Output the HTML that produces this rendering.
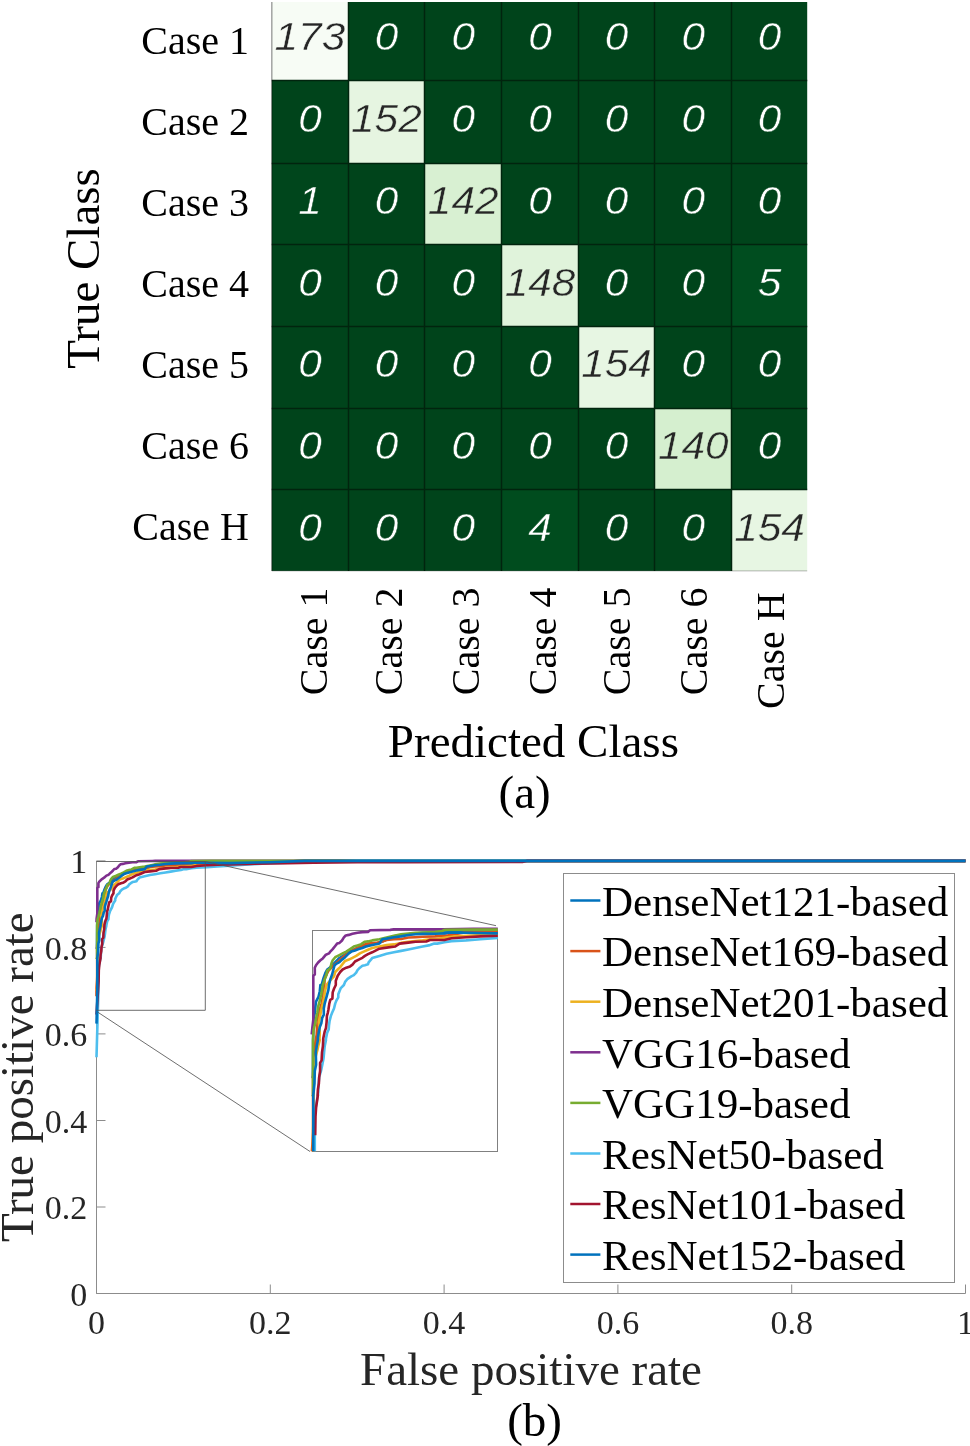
<!DOCTYPE html>
<html><head><meta charset="utf-8"><style>
html,body{margin:0;padding:0;background:#fff;}
svg{display:block;will-change:transform;}
.num{font-family:"Liberation Sans",sans-serif;font-style:italic;font-size:38.5px;}
.lab{font-family:"Liberation Serif",serif;font-size:40px;fill:#000;}
.big{font-family:"Liberation Serif",serif;font-size:47px;fill:#000;}
.leg{font-family:"Liberation Serif",serif;font-size:43px;fill:#000;}
.tick{font-family:"Liberation Serif",serif;font-size:34px;fill:#262626;}
.axl{font-family:"Liberation Serif",serif;font-size:47px;fill:#262626;}
</style></head><body>
<svg width="970" height="1446" viewBox="0 0 970 1446">
<rect width="970" height="1446" fill="#fff"/>
<rect x="271.8" y="2.0" width="76.2" height="78.3" fill="rgb(247, 252, 245)"/>
<rect x="348.0" y="2.0" width="76.9" height="78.3" fill="rgb(0, 68, 27)"/>
<rect x="424.9" y="2.0" width="76.7" height="78.3" fill="rgb(0, 68, 27)"/>
<rect x="501.6" y="2.0" width="76.8" height="78.3" fill="rgb(0, 68, 27)"/>
<rect x="578.4" y="2.0" width="76.5" height="78.3" fill="rgb(0, 68, 27)"/>
<rect x="654.9" y="2.0" width="76.9" height="78.3" fill="rgb(0, 68, 27)"/>
<rect x="731.8" y="2.0" width="75.4" height="78.3" fill="rgb(0, 68, 27)"/>
<rect x="271.8" y="80.3" width="76.2" height="82.7" fill="rgb(0, 68, 27)"/>
<rect x="348.0" y="80.3" width="76.9" height="82.7" fill="rgb(230, 245, 225)"/>
<rect x="424.9" y="80.3" width="76.7" height="82.7" fill="rgb(0, 68, 27)"/>
<rect x="501.6" y="80.3" width="76.8" height="82.7" fill="rgb(0, 68, 27)"/>
<rect x="578.4" y="80.3" width="76.5" height="82.7" fill="rgb(0, 68, 27)"/>
<rect x="654.9" y="80.3" width="76.9" height="82.7" fill="rgb(0, 68, 27)"/>
<rect x="731.8" y="80.3" width="75.4" height="82.7" fill="rgb(0, 68, 27)"/>
<rect x="271.8" y="163.0" width="76.2" height="81.8" fill="rgb(0, 70, 28)"/>
<rect x="348.0" y="163.0" width="76.9" height="81.8" fill="rgb(0, 68, 27)"/>
<rect x="424.9" y="163.0" width="76.7" height="81.8" fill="rgb(216, 240, 210)"/>
<rect x="501.6" y="163.0" width="76.8" height="81.8" fill="rgb(0, 68, 27)"/>
<rect x="578.4" y="163.0" width="76.5" height="81.8" fill="rgb(0, 68, 27)"/>
<rect x="654.9" y="163.0" width="76.9" height="81.8" fill="rgb(0, 68, 27)"/>
<rect x="731.8" y="163.0" width="75.4" height="81.8" fill="rgb(0, 68, 27)"/>
<rect x="271.8" y="244.8" width="76.2" height="81.2" fill="rgb(0, 68, 27)"/>
<rect x="348.0" y="244.8" width="76.9" height="81.2" fill="rgb(0, 68, 27)"/>
<rect x="424.9" y="244.8" width="76.7" height="81.2" fill="rgb(0, 68, 27)"/>
<rect x="501.6" y="244.8" width="76.8" height="81.2" fill="rgb(224, 243, 219)"/>
<rect x="578.4" y="244.8" width="76.5" height="81.2" fill="rgb(0, 68, 27)"/>
<rect x="654.9" y="244.8" width="76.9" height="81.2" fill="rgb(0, 68, 27)"/>
<rect x="731.8" y="244.8" width="75.4" height="81.2" fill="rgb(0, 77, 31)"/>
<rect x="271.8" y="326.0" width="76.2" height="82.2" fill="rgb(0, 68, 27)"/>
<rect x="348.0" y="326.0" width="76.9" height="82.2" fill="rgb(0, 68, 27)"/>
<rect x="424.9" y="326.0" width="76.7" height="82.2" fill="rgb(0, 68, 27)"/>
<rect x="501.6" y="326.0" width="76.8" height="82.2" fill="rgb(0, 68, 27)"/>
<rect x="578.4" y="326.0" width="76.5" height="82.2" fill="rgb(231, 246, 227)"/>
<rect x="654.9" y="326.0" width="76.9" height="82.2" fill="rgb(0, 68, 27)"/>
<rect x="731.8" y="326.0" width="75.4" height="82.2" fill="rgb(0, 68, 27)"/>
<rect x="271.8" y="408.2" width="76.2" height="81.6" fill="rgb(0, 68, 27)"/>
<rect x="348.0" y="408.2" width="76.9" height="81.6" fill="rgb(0, 68, 27)"/>
<rect x="424.9" y="408.2" width="76.7" height="81.6" fill="rgb(0, 68, 27)"/>
<rect x="501.6" y="408.2" width="76.8" height="81.6" fill="rgb(0, 68, 27)"/>
<rect x="578.4" y="408.2" width="76.5" height="81.6" fill="rgb(0, 68, 27)"/>
<rect x="654.9" y="408.2" width="76.9" height="81.6" fill="rgb(213, 239, 207)"/>
<rect x="731.8" y="408.2" width="75.4" height="81.6" fill="rgb(0, 68, 27)"/>
<rect x="271.8" y="489.8" width="76.2" height="81.1" fill="rgb(0, 68, 27)"/>
<rect x="348.0" y="489.8" width="76.9" height="81.1" fill="rgb(0, 68, 27)"/>
<rect x="424.9" y="489.8" width="76.7" height="81.1" fill="rgb(0, 68, 27)"/>
<rect x="501.6" y="489.8" width="76.8" height="81.1" fill="rgb(0, 76, 30)"/>
<rect x="578.4" y="489.8" width="76.5" height="81.1" fill="rgb(0, 68, 27)"/>
<rect x="654.9" y="489.8" width="76.9" height="81.1" fill="rgb(0, 68, 27)"/>
<rect x="731.8" y="489.8" width="75.4" height="81.1" fill="rgb(231, 246, 227)"/>
<line x1="348.5" y1="2.0" x2="348.5" y2="570.9" stroke="#01240e" stroke-width="1.5"/>
<line x1="424.5" y1="2.0" x2="424.5" y2="570.9" stroke="#01240e" stroke-width="1.5"/>
<line x1="501.5" y1="2.0" x2="501.5" y2="570.9" stroke="#01240e" stroke-width="1.5"/>
<line x1="578.5" y1="2.0" x2="578.5" y2="570.9" stroke="#01240e" stroke-width="1.5"/>
<line x1="654.5" y1="2.0" x2="654.5" y2="570.9" stroke="#01240e" stroke-width="1.5"/>
<line x1="731.5" y1="2.0" x2="731.5" y2="570.9" stroke="#01240e" stroke-width="1.5"/>
<line x1="271.8" y1="80.5" x2="807.2" y2="80.5" stroke="#01240e" stroke-width="1.5"/>
<line x1="271.8" y1="163.5" x2="807.2" y2="163.5" stroke="#01240e" stroke-width="1.5"/>
<line x1="271.8" y1="244.5" x2="807.2" y2="244.5" stroke="#01240e" stroke-width="1.5"/>
<line x1="271.8" y1="326.5" x2="807.2" y2="326.5" stroke="#01240e" stroke-width="1.5"/>
<line x1="271.8" y1="408.5" x2="807.2" y2="408.5" stroke="#01240e" stroke-width="1.5"/>
<line x1="271.8" y1="489.5" x2="807.2" y2="489.5" stroke="#01240e" stroke-width="1.5"/>
<line x1="271.8" y1="2.0" x2="271.8" y2="570.9" stroke="#000" stroke-opacity="0.38" stroke-width="1.4"/>
<line x1="271.8" y1="570.9" x2="807.2" y2="570.9" stroke="#000" stroke-opacity="0.22" stroke-width="1.3"/>
<text x="0" y="0" transform="translate(309.9,50.0) scale(1.1,1)" text-anchor="middle" class="num" fill="#262626" stroke="rgb(247, 252, 245)" stroke-width="0.45">173</text>
<text x="0" y="0" transform="translate(386.4,50.0) scale(1.1,1)" text-anchor="middle" class="num" fill="#ffffff" stroke="rgb(0, 68, 27)" stroke-width="0.45">0</text>
<text x="0" y="0" transform="translate(463.2,50.0) scale(1.1,1)" text-anchor="middle" class="num" fill="#ffffff" stroke="rgb(0, 68, 27)" stroke-width="0.45">0</text>
<text x="0" y="0" transform="translate(540.0,50.0) scale(1.1,1)" text-anchor="middle" class="num" fill="#ffffff" stroke="rgb(0, 68, 27)" stroke-width="0.45">0</text>
<text x="0" y="0" transform="translate(616.6,50.0) scale(1.1,1)" text-anchor="middle" class="num" fill="#ffffff" stroke="rgb(0, 68, 27)" stroke-width="0.45">0</text>
<text x="0" y="0" transform="translate(693.3,50.0) scale(1.1,1)" text-anchor="middle" class="num" fill="#ffffff" stroke="rgb(0, 68, 27)" stroke-width="0.45">0</text>
<text x="0" y="0" transform="translate(769.5,50.0) scale(1.1,1)" text-anchor="middle" class="num" fill="#ffffff" stroke="rgb(0, 68, 27)" stroke-width="0.45">0</text>
<text x="0" y="0" transform="translate(309.9,131.8) scale(1.1,1)" text-anchor="middle" class="num" fill="#ffffff" stroke="rgb(0, 68, 27)" stroke-width="0.45">0</text>
<text x="0" y="0" transform="translate(386.4,131.8) scale(1.1,1)" text-anchor="middle" class="num" fill="#262626" stroke="rgb(230, 245, 225)" stroke-width="0.45">152</text>
<text x="0" y="0" transform="translate(463.2,131.8) scale(1.1,1)" text-anchor="middle" class="num" fill="#ffffff" stroke="rgb(0, 68, 27)" stroke-width="0.45">0</text>
<text x="0" y="0" transform="translate(540.0,131.8) scale(1.1,1)" text-anchor="middle" class="num" fill="#ffffff" stroke="rgb(0, 68, 27)" stroke-width="0.45">0</text>
<text x="0" y="0" transform="translate(616.6,131.8) scale(1.1,1)" text-anchor="middle" class="num" fill="#ffffff" stroke="rgb(0, 68, 27)" stroke-width="0.45">0</text>
<text x="0" y="0" transform="translate(693.3,131.8) scale(1.1,1)" text-anchor="middle" class="num" fill="#ffffff" stroke="rgb(0, 68, 27)" stroke-width="0.45">0</text>
<text x="0" y="0" transform="translate(769.5,131.8) scale(1.1,1)" text-anchor="middle" class="num" fill="#ffffff" stroke="rgb(0, 68, 27)" stroke-width="0.45">0</text>
<text x="0" y="0" transform="translate(309.9,213.7) scale(1.1,1)" text-anchor="middle" class="num" fill="#ffffff" stroke="rgb(0, 70, 28)" stroke-width="0.45">1</text>
<text x="0" y="0" transform="translate(386.4,213.7) scale(1.1,1)" text-anchor="middle" class="num" fill="#ffffff" stroke="rgb(0, 68, 27)" stroke-width="0.45">0</text>
<text x="0" y="0" transform="translate(463.2,213.7) scale(1.1,1)" text-anchor="middle" class="num" fill="#262626" stroke="rgb(216, 240, 210)" stroke-width="0.45">142</text>
<text x="0" y="0" transform="translate(540.0,213.7) scale(1.1,1)" text-anchor="middle" class="num" fill="#ffffff" stroke="rgb(0, 68, 27)" stroke-width="0.45">0</text>
<text x="0" y="0" transform="translate(616.6,213.7) scale(1.1,1)" text-anchor="middle" class="num" fill="#ffffff" stroke="rgb(0, 68, 27)" stroke-width="0.45">0</text>
<text x="0" y="0" transform="translate(693.3,213.7) scale(1.1,1)" text-anchor="middle" class="num" fill="#ffffff" stroke="rgb(0, 68, 27)" stroke-width="0.45">0</text>
<text x="0" y="0" transform="translate(769.5,213.7) scale(1.1,1)" text-anchor="middle" class="num" fill="#ffffff" stroke="rgb(0, 68, 27)" stroke-width="0.45">0</text>
<text x="0" y="0" transform="translate(309.9,295.5) scale(1.1,1)" text-anchor="middle" class="num" fill="#ffffff" stroke="rgb(0, 68, 27)" stroke-width="0.45">0</text>
<text x="0" y="0" transform="translate(386.4,295.5) scale(1.1,1)" text-anchor="middle" class="num" fill="#ffffff" stroke="rgb(0, 68, 27)" stroke-width="0.45">0</text>
<text x="0" y="0" transform="translate(463.2,295.5) scale(1.1,1)" text-anchor="middle" class="num" fill="#ffffff" stroke="rgb(0, 68, 27)" stroke-width="0.45">0</text>
<text x="0" y="0" transform="translate(540.0,295.5) scale(1.1,1)" text-anchor="middle" class="num" fill="#262626" stroke="rgb(224, 243, 219)" stroke-width="0.45">148</text>
<text x="0" y="0" transform="translate(616.6,295.5) scale(1.1,1)" text-anchor="middle" class="num" fill="#ffffff" stroke="rgb(0, 68, 27)" stroke-width="0.45">0</text>
<text x="0" y="0" transform="translate(693.3,295.5) scale(1.1,1)" text-anchor="middle" class="num" fill="#ffffff" stroke="rgb(0, 68, 27)" stroke-width="0.45">0</text>
<text x="0" y="0" transform="translate(769.5,295.5) scale(1.1,1)" text-anchor="middle" class="num" fill="#ffffff" stroke="rgb(0, 77, 31)" stroke-width="0.45">5</text>
<text x="0" y="0" transform="translate(309.9,377.4) scale(1.1,1)" text-anchor="middle" class="num" fill="#ffffff" stroke="rgb(0, 68, 27)" stroke-width="0.45">0</text>
<text x="0" y="0" transform="translate(386.4,377.4) scale(1.1,1)" text-anchor="middle" class="num" fill="#ffffff" stroke="rgb(0, 68, 27)" stroke-width="0.45">0</text>
<text x="0" y="0" transform="translate(463.2,377.4) scale(1.1,1)" text-anchor="middle" class="num" fill="#ffffff" stroke="rgb(0, 68, 27)" stroke-width="0.45">0</text>
<text x="0" y="0" transform="translate(540.0,377.4) scale(1.1,1)" text-anchor="middle" class="num" fill="#ffffff" stroke="rgb(0, 68, 27)" stroke-width="0.45">0</text>
<text x="0" y="0" transform="translate(616.6,377.4) scale(1.1,1)" text-anchor="middle" class="num" fill="#262626" stroke="rgb(231, 246, 227)" stroke-width="0.45">154</text>
<text x="0" y="0" transform="translate(693.3,377.4) scale(1.1,1)" text-anchor="middle" class="num" fill="#ffffff" stroke="rgb(0, 68, 27)" stroke-width="0.45">0</text>
<text x="0" y="0" transform="translate(769.5,377.4) scale(1.1,1)" text-anchor="middle" class="num" fill="#ffffff" stroke="rgb(0, 68, 27)" stroke-width="0.45">0</text>
<text x="0" y="0" transform="translate(309.9,459.2) scale(1.1,1)" text-anchor="middle" class="num" fill="#ffffff" stroke="rgb(0, 68, 27)" stroke-width="0.45">0</text>
<text x="0" y="0" transform="translate(386.4,459.2) scale(1.1,1)" text-anchor="middle" class="num" fill="#ffffff" stroke="rgb(0, 68, 27)" stroke-width="0.45">0</text>
<text x="0" y="0" transform="translate(463.2,459.2) scale(1.1,1)" text-anchor="middle" class="num" fill="#ffffff" stroke="rgb(0, 68, 27)" stroke-width="0.45">0</text>
<text x="0" y="0" transform="translate(540.0,459.2) scale(1.1,1)" text-anchor="middle" class="num" fill="#ffffff" stroke="rgb(0, 68, 27)" stroke-width="0.45">0</text>
<text x="0" y="0" transform="translate(616.6,459.2) scale(1.1,1)" text-anchor="middle" class="num" fill="#ffffff" stroke="rgb(0, 68, 27)" stroke-width="0.45">0</text>
<text x="0" y="0" transform="translate(693.3,459.2) scale(1.1,1)" text-anchor="middle" class="num" fill="#262626" stroke="rgb(213, 239, 207)" stroke-width="0.45">140</text>
<text x="0" y="0" transform="translate(769.5,459.2) scale(1.1,1)" text-anchor="middle" class="num" fill="#ffffff" stroke="rgb(0, 68, 27)" stroke-width="0.45">0</text>
<text x="0" y="0" transform="translate(309.9,541.1) scale(1.1,1)" text-anchor="middle" class="num" fill="#ffffff" stroke="rgb(0, 68, 27)" stroke-width="0.45">0</text>
<text x="0" y="0" transform="translate(386.4,541.1) scale(1.1,1)" text-anchor="middle" class="num" fill="#ffffff" stroke="rgb(0, 68, 27)" stroke-width="0.45">0</text>
<text x="0" y="0" transform="translate(463.2,541.1) scale(1.1,1)" text-anchor="middle" class="num" fill="#ffffff" stroke="rgb(0, 68, 27)" stroke-width="0.45">0</text>
<text x="0" y="0" transform="translate(540.0,541.1) scale(1.1,1)" text-anchor="middle" class="num" fill="#ffffff" stroke="rgb(0, 76, 30)" stroke-width="0.45">4</text>
<text x="0" y="0" transform="translate(616.6,541.1) scale(1.1,1)" text-anchor="middle" class="num" fill="#ffffff" stroke="rgb(0, 68, 27)" stroke-width="0.45">0</text>
<text x="0" y="0" transform="translate(693.3,541.1) scale(1.1,1)" text-anchor="middle" class="num" fill="#ffffff" stroke="rgb(0, 68, 27)" stroke-width="0.45">0</text>
<text x="0" y="0" transform="translate(769.5,541.1) scale(1.1,1)" text-anchor="middle" class="num" fill="#262626" stroke="rgb(231, 246, 227)" stroke-width="0.45">154</text>
<text x="249" y="53.8" text-anchor="end" class="lab">Case 1</text>
<text x="249" y="134.9" text-anchor="end" class="lab">Case 2</text>
<text x="249" y="216.0" text-anchor="end" class="lab">Case 3</text>
<text x="249" y="297.0" text-anchor="end" class="lab">Case 4</text>
<text x="249" y="378.1" text-anchor="end" class="lab">Case 5</text>
<text x="249" y="459.2" text-anchor="end" class="lab">Case 6</text>
<text x="249" y="540.3" text-anchor="end" class="lab">Case H</text>
<text transform="translate(326.8,587.5) rotate(-90)" text-anchor="end" class="lab">Case 1</text>
<text transform="translate(401.5,587.5) rotate(-90)" text-anchor="end" class="lab">Case 2</text>
<text transform="translate(478.5,587.5) rotate(-90)" text-anchor="end" class="lab">Case 3</text>
<text transform="translate(555.6,587.5) rotate(-90)" text-anchor="end" class="lab">Case 4</text>
<text transform="translate(629.8,587.5) rotate(-90)" text-anchor="end" class="lab">Case 5</text>
<text transform="translate(706.5,587.5) rotate(-90)" text-anchor="end" class="lab">Case 6</text>
<text transform="translate(784.0,592.4) rotate(-90)" text-anchor="end" class="lab">Case H</text>
<text transform="translate(98.5,268.5) rotate(-90)" text-anchor="middle" class="big">True Class</text>
<text x="533.4" y="756.5" text-anchor="middle" class="big">Predicted Class</text>
<text x="524.6" y="807.6" text-anchor="middle" class="big">(a)</text>
<g stroke="#8c8c8c" stroke-width="1" fill="none">
<line x1="96.5" y1="1293.5" x2="965.5" y2="1293.5"/>
<line x1="96.5" y1="1293.5" x2="96.5" y2="860.9"/>
<line x1="96.5" y1="1293.5" x2="96.5" y2="1284.5"/>
<line x1="96.5" y1="1293.5" x2="105.5" y2="1293.5"/>
<line x1="270.3" y1="1293.5" x2="270.3" y2="1284.5"/>
<line x1="96.5" y1="1207.0" x2="105.5" y2="1207.0"/>
<line x1="444.1" y1="1293.5" x2="444.1" y2="1284.5"/>
<line x1="96.5" y1="1120.5" x2="105.5" y2="1120.5"/>
<line x1="617.9" y1="1293.5" x2="617.9" y2="1284.5"/>
<line x1="96.5" y1="1033.9" x2="105.5" y2="1033.9"/>
<line x1="791.7" y1="1293.5" x2="791.7" y2="1284.5"/>
<line x1="96.5" y1="947.4" x2="105.5" y2="947.4"/>
<line x1="965.5" y1="1293.5" x2="965.5" y2="1284.5"/>
<line x1="96.5" y1="860.9" x2="105.5" y2="860.9"/>
</g>
<g fill="none" stroke-width="2.6" stroke-linejoin="round" stroke-linecap="butt">
<path d="M96.5,947.4 L96.5,947.8 L97.0,947.3 L97.1,936.5 L97.2,925.6 L97.5,913.6 L98.4,909.7 L98.8,906.0 L99.3,903.1 L101.0,900.2 L101.9,897.0 L102.4,893.3 L103.2,893.3 L104.6,889.3 L105.9,886.4 L107.2,884.3 L108.6,883.5 L112.1,880.6 L115.7,877.7 L120.1,875.6 L124.5,873.4 L129.0,871.6 L133.4,870.5 L136.5,869.7 L144.7,868.7 L155.1,864.8 L165.5,863.6 L175.8,862.7 L184.6,862.5 L206.9,862.3 L229.7,862.7 L270.3,862.2 L305.1,860.9 L965.5,860.9" stroke="#0072bd"/>
<path d="M96.5,996.3 L96.5,990.8 L96.6,986.9 L97.1,979.6 L97.2,976.0 L97.1,947.3 L97.7,936.5 L98.4,929.2 L99.7,922.3 L99.9,918.7 L100.4,915.1 L101.0,911.5 L101.9,907.8 L103.2,904.2 L104.1,900.6 L105.0,895.1 L105.5,889.7 L106.8,887.2 L108.1,885.0 L110.3,883.2 L112.6,881.4 L114.8,879.9 L117.4,877.7 L120.1,875.9 L122.8,874.5 L125.4,873.0 L129.0,871.6 L133.4,869.7 L136.5,869.0 L142.2,868.7 L146.8,867.8 L149.9,867.0 L155.1,866.5 L160.3,866.3 L165.5,865.5 L170.6,865.3 L175.8,865.1 L184.6,864.8 L194.0,864.2 L205.9,862.5 L229.7,862.3 L270.3,862.2 L305.1,860.9 L965.5,860.9" stroke="#d95319"/>
<path d="M96.5,988.9 L97.2,990.8 L97.2,979.6 L97.5,943.7 L98.0,938.3 L100.4,931.0 L100.8,929.2 L101.9,925.6 L101.7,926.0 L101.9,921.6 L101.3,915.1 L102.1,911.5 L103.0,907.8 L104.1,904.2 L105.0,900.6 L105.7,897.0 L106.8,893.3 L108.1,891.9 L112.1,888.2 L113.0,885.7 L114.8,884.3 L116.6,882.8 L118.3,881.0 L120.1,879.2 L122.8,878.5 L125.4,877.4 L128.1,876.3 L130.8,874.8 L133.4,873.7 L136.5,872.7 L139.6,871.6 L144.7,870.8 L149.9,869.9 L155.1,869.5 L160.3,868.7 L165.5,868.0 L170.6,867.6 L175.8,867.2 L181.0,866.5 L184.6,866.5 L191.4,865.7 L199.1,864.8 L204.3,864.6 L214.7,864.2 L229.7,864.2 L270.3,862.6 L305.1,860.9 L965.5,860.9" stroke="#edb120"/>
<path d="M96.5,922.3 L96.5,922.3 L96.6,918.7 L97.3,913.6 L97.3,893.3 L97.3,887.9 L98.4,887.2 L98.4,883.2 L99.3,881.7 L100.6,880.3 L102.4,878.8 L104.1,877.7 L106.4,875.6 L108.6,874.8 L109.5,873.7 L111.2,872.3 L113.0,870.5 L114.3,869.0 L116.1,868.7 L117.9,867.2 L119.2,865.4 L120.6,864.3 L122.8,863.9 L125.4,863.2 L129.0,862.7 L132.5,862.3 L136.5,862.2 L138.0,861.3 L152.5,861.0 L155.1,860.9 L184.6,860.9 L190.9,860.9 L212.1,860.9 L229.7,860.9 L270.3,860.9 L965.5,860.9" stroke="#7e2f8e"/>
<path d="M96.5,958.7 L96.5,958.6 L97.1,958.2 L97.1,925.6 L97.3,922.3 L97.5,919.4 L98.4,916.9 L99.3,913.3 L100.1,909.7 L100.8,906.0 L101.9,902.4 L103.0,898.8 L104.1,893.3 L105.5,890.1 L106.8,887.2 L107.2,885.0 L109.5,883.5 L110.3,880.6 L111.2,878.8 L113.0,877.0 L115.7,875.9 L118.3,874.8 L121.0,873.7 L123.7,872.3 L126.3,870.8 L129.0,870.1 L131.6,869.4 L134.3,867.9 L136.5,867.8 L139.6,867.2 L144.7,866.5 L149.9,865.5 L155.1,864.4 L160.3,863.6 L165.5,863.2 L170.6,862.7 L175.8,862.5 L184.6,862.2 L189.8,861.7 L191.4,861.0 L212.1,860.9 L229.7,860.9 L270.3,860.9 L965.5,860.9" stroke="#77ac30"/>
<path d="M96.5,1057.3 L98.4,990.8 L98.4,968.7 L100.8,956.4 L101.1,951.0 L101.5,947.3 L102.8,943.7 L103.7,940.1 L104.6,936.5 L105.1,932.8 L105.5,929.2 L106.4,925.6 L106.1,926.0 L106.6,924.2 L107.2,921.3 L108.4,919.4 L108.6,916.9 L109.0,914.4 L109.9,911.5 L110.8,909.7 L112.1,907.1 L113.0,904.2 L113.9,902.4 L115.2,900.6 L115.2,898.8 L116.1,897.0 L117.0,895.1 L119.2,893.3 L120.1,891.5 L121.9,889.7 L124.5,888.2 L126.3,887.5 L128.1,886.1 L129.0,884.6 L130.8,883.2 L132.5,882.1 L134.3,881.7 L136.5,881.2 L137.0,880.1 L139.6,877.5 L144.7,876.3 L149.9,875.0 L155.1,874.2 L160.3,873.3 L165.5,872.5 L170.6,871.6 L175.8,870.8 L181.0,869.9 L184.1,869.1 L186.2,869.1 L191.4,868.2 L196.6,867.6 L206.9,867.2 L217.3,866.5 L229.7,865.7 L248.6,864.4 L270.3,863.1 L305.1,862.2 L357.2,860.9 L965.5,860.9" stroke="#4dbeee"/>
<path d="M96.5,1014.5 L98.6,981.4 L98.8,970.5 L99.3,965.1 L99.9,961.5 L100.6,957.8 L100.4,958.2 L100.6,954.6 L101.3,951.0 L101.5,947.3 L102.2,943.7 L102.2,939.0 L103.3,937.6 L103.5,932.8 L104.2,929.2 L104.4,925.6 L104.4,924.9 L104.8,923.1 L105.5,920.5 L106.4,918.7 L106.8,915.1 L107.0,911.5 L107.7,909.7 L108.1,907.8 L108.8,904.2 L109.5,902.0 L111.0,901.3 L111.2,897.7 L112.1,895.5 L113.5,893.3 L113.5,890.8 L114.8,887.9 L116.6,885.7 L118.3,884.3 L121.0,883.2 L123.7,882.4 L125.4,881.4 L127.2,879.5 L129.9,878.5 L132.5,877.4 L134.3,876.3 L136.5,875.2 L139.6,874.2 L144.7,872.0 L149.9,871.4 L156.1,870.8 L159.2,869.1 L165.5,868.4 L170.6,868.0 L178.4,867.8 L181.0,867.0 L184.6,867.0 L191.4,867.0 L196.6,865.9 L206.9,865.3 L217.3,864.8 L229.7,864.4 L248.6,863.9 L287.7,863.1 L313.8,862.6 L357.2,862.2 L400.6,862.3 L522.3,862.0 L526.7,860.9 L965.5,860.9" stroke="#a2142f"/>
<path d="M96.5,1023.6 L97.3,990.8 L97.3,957.8 L98.2,951.0 L98.4,943.7 L99.3,940.1 L99.1,932.8 L99.7,929.2 L100.6,925.6 L100.6,924.2 L101.3,920.9 L101.9,918.0 L103.0,915.8 L103.7,912.6 L104.8,910.7 L104.8,907.1 L105.5,904.2 L106.4,901.7 L107.2,898.8 L108.1,896.2 L108.6,893.3 L109.5,890.1 L110.8,887.2 L111.7,884.3 L112.6,881.7 L114.3,880.6 L116.1,879.9 L117.9,878.5 L120.1,877.0 L122.8,874.8 L124.5,873.7 L127.2,873.0 L129.9,872.3 L132.5,871.6 L135.2,870.8 L136.5,870.5 L139.6,869.9 L144.7,869.1 L146.8,866.5 L149.9,866.1 L155.1,865.3 L160.3,864.8 L165.5,864.0 L170.6,863.6 L175.8,863.4 L184.6,863.2 L191.4,863.2 L194.0,862.7 L206.9,862.7 L229.7,863.1 L270.3,862.2 L305.1,860.9 L965.5,860.9" stroke="#0072bd"/>
</g>
<g stroke="#555" stroke-width="1" fill="none" stroke-opacity="0.85">
<path d="M96.5,861.5 L205.3,861.5 L205.3,1010.3 L96.5,1010.3"/>
<line x1="205.3" y1="861.5" x2="496" y2="925.7"/>
<line x1="97.5" y1="1012" x2="310" y2="1151.5"/>
</g>
<rect x="312.5" y="930.5" width="185" height="221" fill="#fff" stroke="#808080" stroke-width="1"/>
<g fill="none" stroke-width="2.6" stroke-linejoin="round">
<path d="M311.6,1077.8 L312.9,1077.1 L313.0,1058.6 L313.1,1040.0 L313.6,1019.6 L314.8,1012.8 L315.4,1006.6 L316.0,1001.7 L318.5,996.8 L319.8,991.2 L320.4,985.0 L321.6,985.0 L323.5,978.2 L325.3,973.2 L327.2,969.5 L329.0,968.3 L334.0,963.3 L338.9,958.4 L345.1,954.7 L351.3,951.0 L357.5,947.9 L363.7,946.0 L368.0,944.8 L379.4,942.9 L393.9,936.4 L408.3,934.3 L422.7,932.8 L435.0,932.5 L466.1,932.1 L497.8,932.8" stroke="#0072bd"/>
<path d="M311.9,1151.3 L312.4,1144.5 L313.0,1132.1 L313.1,1125.9 L313.0,1077.1 L313.9,1058.6 L314.8,1046.2 L316.7,1034.5 L317.0,1028.3 L317.6,1022.1 L318.5,1015.9 L319.8,1009.7 L321.6,1003.6 L322.8,997.4 L324.1,988.1 L324.7,978.8 L326.6,974.5 L328.4,970.8 L331.5,967.7 L334.6,964.6 L337.7,962.1 L341.4,958.4 L345.1,955.3 L348.8,952.8 L352.5,950.4 L357.5,947.9 L363.7,944.8 L368.0,943.6 L375.8,942.9 L382.3,941.5 L386.6,940.0 L393.9,939.3 L401.1,939.0 L408.3,937.5 L415.5,937.2 L422.7,936.8 L435.0,936.4 L448.0,935.4 L464.6,932.5 L497.8,932.1" stroke="#d95319"/>
<path d="M313.1,1151.3 L313.1,1132.1 L313.6,1070.9 L314.2,1061.6 L317.6,1049.3 L318.2,1046.2 L319.8,1040.0 L319.4,1040.7 L319.8,1033.2 L318.8,1022.1 L320.1,1015.9 L321.3,1009.7 L322.8,1003.6 L324.1,997.4 L325.0,991.2 L326.6,985.0 L328.4,982.5 L334.0,976.3 L335.2,972.0 L337.7,969.5 L340.2,967.1 L342.6,964.0 L345.1,960.9 L348.8,959.6 L352.5,957.8 L356.2,955.9 L359.9,953.4 L363.7,951.6 L368.0,949.7 L372.2,948.0 L379.4,946.5 L386.6,945.1 L393.9,944.4 L401.1,942.9 L408.3,941.8 L415.5,941.1 L422.7,940.4 L429.9,939.3 L435.0,939.2 L444.4,937.9 L455.3,936.4 L462.5,936.1 L476.9,935.4 L497.8,935.4" stroke="#edb120"/>
<path d="M311.7,1034.5 L312.3,1028.3 L313.3,1019.6 L313.3,985.0 L313.3,975.7 L314.8,974.5 L314.8,967.7 L316.0,965.2 L317.9,962.7 L320.4,960.3 L322.8,958.4 L325.9,954.7 L329.0,953.4 L330.3,951.6 L332.7,949.1 L335.2,946.0 L337.1,943.6 L339.5,942.9 L342.0,940.5 L343.9,937.4 L345.7,935.5 L348.8,934.9 L352.5,933.7 L357.5,932.7 L362.4,932.1 L368.0,931.9 L370.1,930.3 L390.3,929.9 L393.9,929.2 L435.0,929.2 L443.7,929.2 L473.3,928.9 L497.8,928.9" stroke="#7e2f8e"/>
<path d="M311.8,1096.3 L313.0,1095.7 L313.0,1040.0 L313.3,1034.5 L313.6,1029.5 L314.8,1025.2 L316.0,1019.0 L317.3,1012.8 L318.2,1006.6 L319.8,1000.5 L321.3,994.3 L322.8,985.0 L324.7,979.4 L326.6,974.5 L327.2,970.8 L330.3,968.3 L331.5,963.3 L332.7,960.3 L335.2,957.2 L338.9,955.3 L342.6,953.4 L346.3,951.6 L350.1,949.1 L353.8,946.6 L357.5,945.4 L361.2,944.2 L364.9,941.7 L368.0,941.4 L372.2,940.4 L379.4,939.3 L386.6,937.5 L393.9,935.7 L401.1,934.3 L408.3,933.5 L415.5,932.8 L422.7,932.5 L435.0,932.0 L442.3,931.0 L444.4,929.9 L473.3,929.6 L497.8,929.6" stroke="#77ac30"/>
<path d="M314.8,1151.3 L314.8,1113.6 L318.2,1092.6 L318.6,1083.3 L319.2,1077.1 L321.0,1070.9 L322.3,1064.7 L323.5,1058.6 L324.1,1052.4 L324.7,1046.2 L326.0,1040.0 L325.6,1040.7 L326.2,1037.6 L327.2,1032.6 L328.7,1029.5 L329.0,1025.2 L329.6,1020.9 L330.9,1015.9 L332.1,1012.8 L334.0,1008.5 L335.2,1003.6 L336.4,1000.5 L338.3,997.4 L338.3,994.3 L339.5,991.2 L340.8,988.1 L343.9,985.0 L345.1,981.9 L347.6,978.8 L351.3,976.3 L353.8,975.1 L356.2,972.6 L357.5,970.1 L359.9,967.7 L362.4,965.8 L364.9,965.2 L368.0,964.3 L368.6,962.4 L372.2,958.1 L379.4,955.9 L386.6,953.8 L393.9,952.3 L401.1,950.9 L408.3,949.4 L415.5,948.0 L422.7,946.5 L429.9,945.1 L434.3,943.6 L437.2,943.6 L444.4,942.2 L451.6,941.1 L466.1,940.4 L480.5,939.3 L497.8,937.9" stroke="#4dbeee"/>
<path d="M315.2,1135.2 L315.5,1116.6 L316.1,1107.4 L317.0,1101.2 L317.9,1095.0 L317.6,1095.7 L317.9,1089.5 L318.9,1083.3 L319.2,1077.1 L320.1,1070.9 L320.1,1062.9 L321.6,1060.4 L322.0,1052.4 L322.9,1046.2 L323.2,1040.0 L323.2,1038.8 L323.8,1035.7 L324.7,1031.4 L325.9,1028.3 L326.6,1022.1 L326.9,1015.9 L327.8,1012.8 L328.4,1009.7 L329.3,1003.6 L330.3,999.8 L332.4,998.6 L332.7,992.4 L334.0,988.7 L335.8,985.0 L335.8,980.7 L337.7,975.7 L340.2,972.0 L342.6,969.5 L346.3,967.7 L350.1,966.4 L352.5,964.6 L355.0,961.5 L358.7,959.6 L362.4,957.8 L364.9,955.9 L368.0,954.1 L372.2,952.3 L379.4,948.7 L386.6,947.6 L395.3,946.5 L399.6,943.6 L408.3,942.6 L415.5,941.8 L426.3,941.5 L429.9,940.0 L435.0,940.0 L444.4,940.0 L451.6,938.2 L466.1,937.2 L480.5,936.4 L497.8,935.7" stroke="#a2142f"/>
<path d="M313.3,1151.3 L313.3,1095.0 L314.5,1083.3 L314.8,1070.9 L316.1,1064.7 L315.8,1052.4 L316.7,1046.2 L317.9,1040.0 L317.9,1037.6 L318.8,1032.0 L319.8,1027.1 L321.3,1023.3 L322.2,1017.8 L323.8,1014.7 L323.8,1008.5 L324.7,1003.6 L325.9,999.2 L327.2,994.3 L328.4,989.9 L329.0,985.0 L330.3,979.4 L332.1,974.5 L333.4,969.5 L334.6,965.2 L337.1,963.3 L339.5,962.1 L342.0,959.6 L345.1,957.2 L348.8,953.4 L351.3,951.6 L355.0,950.4 L358.7,949.1 L362.4,947.9 L366.1,946.6 L368.0,946.0 L372.2,945.1 L379.4,943.6 L382.3,939.3 L386.6,938.6 L393.9,937.2 L401.1,936.4 L408.3,935.0 L415.5,934.3 L422.7,933.9 L435.0,933.7 L444.4,933.5 L448.0,932.8 L466.1,932.8 L497.8,933.4" stroke="#0072bd"/>
</g>
<rect x="563.5" y="873.5" width="391" height="409" fill="#fff" stroke="#8c8c8c" stroke-width="1"/>
<line x1="570.3" y1="900.5" x2="600.4" y2="900.5" stroke="#0072bd" stroke-width="2.5"/>
<text x="602" y="915.8" class="leg">DenseNet121-based</text>
<line x1="570.3" y1="951.1" x2="600.4" y2="951.1" stroke="#d95319" stroke-width="2.5"/>
<text x="602" y="966.4" class="leg">DenseNet169-based</text>
<line x1="570.3" y1="1001.7" x2="600.4" y2="1001.7" stroke="#edb120" stroke-width="2.5"/>
<text x="602" y="1017.0" class="leg">DenseNet201-based</text>
<line x1="570.3" y1="1052.3" x2="600.4" y2="1052.3" stroke="#7e2f8e" stroke-width="2.5"/>
<text x="602" y="1067.6" class="leg">VGG16-based</text>
<line x1="570.3" y1="1102.9" x2="600.4" y2="1102.9" stroke="#77ac30" stroke-width="2.5"/>
<text x="602" y="1118.2" class="leg">VGG19-based</text>
<line x1="570.3" y1="1153.5" x2="600.4" y2="1153.5" stroke="#4dbeee" stroke-width="2.5"/>
<text x="602" y="1168.8" class="leg">ResNet50-based</text>
<line x1="570.3" y1="1204.0" x2="600.4" y2="1204.0" stroke="#a2142f" stroke-width="2.5"/>
<text x="602" y="1219.3" class="leg">ResNet101-based</text>
<line x1="570.3" y1="1254.6" x2="600.4" y2="1254.6" stroke="#0072bd" stroke-width="2.5"/>
<text x="602" y="1269.9" class="leg">ResNet152-based</text>
<text x="87.3" y="1305.8" text-anchor="end" class="tick">0</text>
<text x="96.5" y="1333.9" text-anchor="middle" class="tick">0</text>
<text x="87.3" y="1219.3" text-anchor="end" class="tick">0.2</text>
<text x="270.3" y="1333.9" text-anchor="middle" class="tick">0.2</text>
<text x="87.3" y="1132.8" text-anchor="end" class="tick">0.4</text>
<text x="444.1" y="1333.9" text-anchor="middle" class="tick">0.4</text>
<text x="87.3" y="1046.2" text-anchor="end" class="tick">0.6</text>
<text x="617.9" y="1333.9" text-anchor="middle" class="tick">0.6</text>
<text x="87.3" y="959.7" text-anchor="end" class="tick">0.8</text>
<text x="791.7" y="1333.9" text-anchor="middle" class="tick">0.8</text>
<text x="87.3" y="873.2" text-anchor="end" class="tick">1</text>
<text x="965.5" y="1333.9" text-anchor="middle" class="tick">1</text>
<text transform="translate(32.7,1077.2) rotate(-90)" text-anchor="middle" class="axl">True positive rate</text>
<text x="531" y="1385.3" text-anchor="middle" class="axl">False positive rate</text>
<text x="534.6" y="1436.3" text-anchor="middle" class="big">(b)</text>
</svg>
</body></html>
